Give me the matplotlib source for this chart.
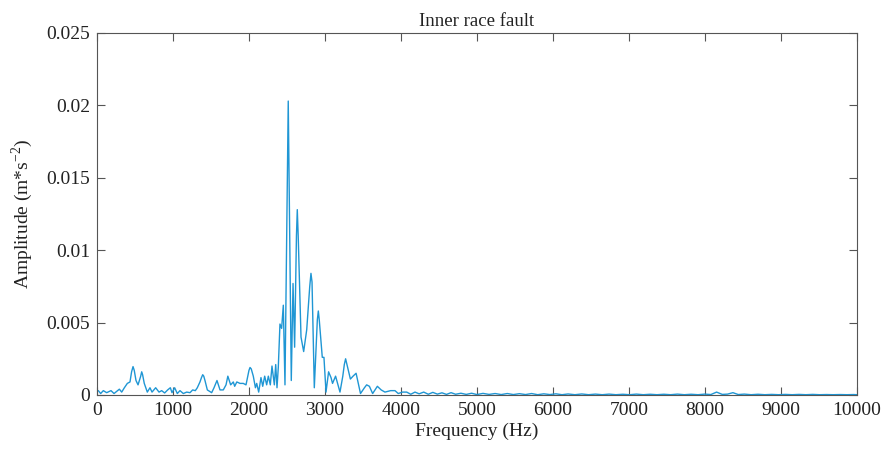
import numpy as np
import matplotlib
matplotlib.use("Agg")
import matplotlib.pyplot as plt

# spectrum (Hz, m*s^-2)
freq_low = [0, 17, 48, 83, 127, 184, 224, 294, 325, 360, 399, 434, 455, 474, 490, 513,
            540, 575, 588, 600, 622, 662, 697, 724, 772, 816, 851, 890, 930, 965, 987,
            1022, 1057, 1092, 1136, 1180, 1224, 1259, 1294, 1320, 1355, 1375, 1391,
            1405, 1421, 1452, 1509, 1540, 1579, 1619, 1662, 1698, 1722, 1759, 1794,
            1812, 1840, 1882, 1925, 1961, 1980, 2000, 2014, 2030, 2057, 2085, 2102,
            2128, 2158, 2181, 2207, 2233, 2255, 2281, 2303, 2334, 2352, 2369, 2386,
            2408, 2430, 2452, 2474]
amp_low = [0.0003, 0.0003, 0.0001, 0.0003, 0.00016, 0.0003, 0.0001, 0.0004, 0.0002,
           0.0005, 0.0008, 0.0009, 0.0016, 0.00196, 0.0017, 0.001, 0.0007, 0.0013,
           0.0016, 0.0014, 0.0008, 0.0002, 0.0005, 0.0002, 0.0005, 0.0002, 0.0003,
           0.00014, 0.00035, 0.0005, 0.00016, 0.0005, 0.0001, 0.0003, 0.0001, 0.0002,
           0.00016, 0.00035, 0.0003, 0.0005, 0.0009, 0.0012, 0.0014, 0.0013, 0.001,
           0.00035, 0.00016, 0.0005, 0.001, 0.00035, 0.00035, 0.0007, 0.0013, 0.0007,
           0.0009, 0.0006, 0.0009, 0.0008, 0.0008, 0.0007, 0.0012, 0.0017, 0.0019,
           0.0018, 0.0013, 0.0005, 0.0008, 0.0002, 0.0012, 0.0006, 0.0013, 0.0007,
           0.0013, 0.0007, 0.002, 0.0007, 0.0021, 0.0005, 0.0019, 0.0049, 0.0046,
           0.0062, 0.0007]

freq_mid = [2517, 2557, 2580, 2601, 2625, 2636, 2648, 2685, 2720, 2760, 2800, 2816,
            2830, 2860, 2900, 2913, 2925, 2965, 2987, 3014, 3048, 3080, 3100, 3140,
            3198, 3235, 3255, 3272, 3290, 3335, 3370, 3410, 3468, 3520, 3549, 3585,
            3628, 3690, 3740, 3790, 3865, 3922, 3965, 4020, 4076, 4130, 4185]
amp_mid = [0.0203, 0.001, 0.0077, 0.0033, 0.011, 0.0128, 0.011, 0.004, 0.003, 0.0045,
           0.0075, 0.0084, 0.0078, 0.0005, 0.0052, 0.0058, 0.0052, 0.0026, 0.0026,
           0.0002, 0.0016, 0.0012, 0.0008, 0.0013, 0.0002, 0.0013, 0.0021, 0.0025,
           0.0021, 0.0011, 0.0013, 0.0015, 0.0001, 0.0005, 0.0007, 0.0006, 0.0001,
           0.0006, 0.00035, 0.0002, 0.0003, 0.0003, 0.0001, 0.0002, 0.0002, 0.00005,
           0.0002]

freq_tail = [4240, 4300, 4360, 4420, 4480, 4540, 4600, 4660, 4720, 4790, 4860, 4930,
             5000, 5080, 5160, 5240, 5320, 5400, 5480, 5560, 5640, 5720, 5800, 5880,
             5960, 6040, 6120, 6200, 6290, 6380, 6470, 6560, 6650, 6740, 6830, 6920,
             7010, 7100, 7190, 7280, 7370, 7460, 7550, 7640, 7730, 7820, 7910, 8000,
             8080, 8155, 8230, 8300, 8370, 8440, 8520, 8610, 8700, 8790, 8880, 8970,
             9060, 9150, 9240, 9330, 9420, 9510, 9600, 9690, 9780, 9870, 9960, 10000]
amp_tail = [0.00008, 0.0002, 0.00005, 0.00018, 0.00006, 0.00015, 0.00004, 0.00016,
            0.00005, 0.00012, 0.00004, 0.00012, 0.00003, 0.00011, 0.00004, 0.0001,
            0.00003, 0.0001, 0.00003, 0.00009, 0.00003, 0.0001, 0.00002, 0.00008,
            0.00003, 0.00008, 0.00002, 0.00007, 0.00002, 0.00007, 0.00002, 0.00006,
            0.00002, 0.00006, 0.00002, 0.00005, 0.00002, 0.00006, 0.00002, 0.00005,
            0.00002, 0.00005, 0.00002, 0.00006, 0.00002, 0.00005, 0.00002, 0.00006,
            0.00003, 0.0002, 0.00004, 0.00006, 0.00016, 0.00003, 0.00006, 0.00002,
            0.00005, 0.00002, 0.00004, 0.00002, 0.00004, 0.00002, 0.00004, 0.00002,
            0.00004, 0.00002, 0.00003, 0.00002, 0.00003, 0.00002, 0.00003, 0.00002]

x_ticks = [0, 1000, 2000, 3000, 4000, 5000, 6000, 7000, 8000, 9000, 10000]
y_ticks = [0, 0.005, 0.01, 0.015, 0.02, 0.025]
y_labels = ['0', '0.005', '0.01', '0.015', '0.02', '0.025']

freq = np.array(freq_low + freq_mid + freq_tail)
amp = np.array(amp_low + amp_mid + amp_tail)

plt.rcParams['font.family'] = ['Liberation Serif', 'DejaVu Serif']
plt.rcParams['mathtext.fontset'] = 'custom'
plt.rcParams['mathtext.rm'] = 'Liberation Serif'

fig = plt.figure(figsize=(8.86, 4.57), dpi=100)
ax = fig.add_axes([0.1095, 0.1357, 0.8575, 0.7921])
ax.plot(freq, amp, color='#1f96d4', lw=1.0)

ax.set_xlim(0, 10000)
ax.set_ylim(0, 0.025)
ax.set_xticks(x_ticks)
ax.set_xticklabels([str(t) for t in x_ticks])
ax.set_yticks(y_ticks)
ax.set_yticklabels(y_labels)
ax.tick_params(direction='in', length=6, width=0.8, color='#555555',
               labelcolor='#222222', labelsize=14, top=True, right=True, pad=5)
for s in ax.spines.values():
    s.set_color('#555555')
    s.set_linewidth(0.8)

ax.set_xlabel('Frequency (Hz)', fontsize=14, color='#222222', labelpad=3)
ax.set_ylabel('Amplitude (m*s$^{-2}$)', fontsize=14, color='#222222', labelpad=8)
ax.set_title('Inner race fault', fontsize=13.5, color='#222222', pad=5)

fig.savefig('out.png', dpi=100)
